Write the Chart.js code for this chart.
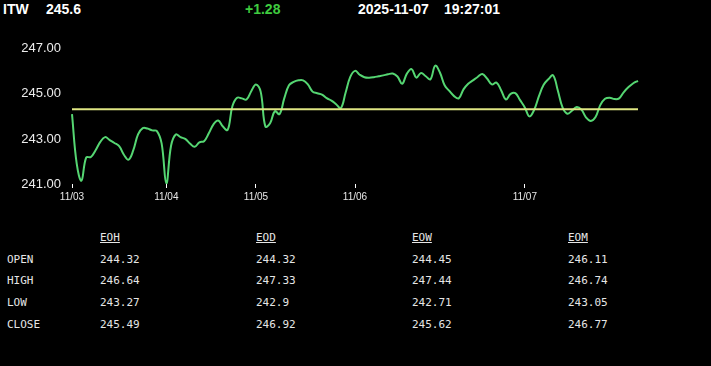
<!DOCTYPE html>
<html>
<head>
<meta charset="utf-8">
<script src="https://cdn.jsdelivr.net/npm/chart.js@4/dist/chart.umd.min.js"></script>
<style>
  html, body { margin: 0; padding: 0; background: #000; }
  body { width: 711px; height: 366px; position: relative; overflow: hidden; }
  .hdr { position: absolute; top: 1px; font: bold 14px "Liberation Sans", Arial, sans-serif; color: #fff; line-height: 16px; }
  .up { color: #3fcb3f; }
  #wrap { position: absolute; left: 0; top: 30px; width: 711px; height: 190px; }
  .cell { position: absolute; font: 11px "DejaVu Sans Mono", monospace; color: #e6e6e6; line-height: 14px; }
  .head { text-decoration: underline; }
</style>
</head>
<body>
<div class="hdr" style="left:3px">ITW</div>
<div class="hdr" id="last" style="left:46px"></div>
<div class="hdr up" id="chg" style="left:245px"></div>
<div class="hdr" id="stamp" style="left:358px"></div>
<div class="hdr" id="clock" style="left:444px"></div>

<div id="wrap"><canvas id="chart" width="711" height="190"></canvas></div>
<div id="table"></div>

<script>
const symbol = "ITW";
const lastPrice = "245.6";
const change = "+1.28";
const dateText = "2025-11-07";
const timeText = "19:27:01";

// intraday closes
const prices = [
  244.1, 241.9, 241.15, 242.17, 242.2, 242.5, 242.87, 243.08, 242.95, 242.82,
  242.68, 242.3, 242.08, 242.5, 243.2, 243.48, 243.46, 243.38, 243.35, 242.8,
  241.03, 242.7, 243.2, 243.08, 243.0, 242.8, 242.65, 242.85, 242.9, 243.25,
  243.65, 243.82, 243.55, 243.4, 244.45, 244.83, 244.8, 244.75, 245.12, 245.42,
  245.1, 243.55, 243.7, 244.23, 244.1, 244.8, 245.38, 245.53, 245.6, 245.6,
  245.42, 245.1, 245.03, 244.97, 244.81, 244.7, 244.54, 244.37, 245.05, 245.75,
  246.02, 245.85, 245.74, 245.72, 245.74, 245.78, 245.82, 245.87, 245.9, 245.77,
  245.45, 245.9, 246.1, 245.72, 245.93, 245.78, 245.65, 246.25, 245.95, 245.38,
  245.13, 244.9, 244.8, 245.2, 245.45, 245.6, 245.75, 245.88, 245.68, 245.42,
  245.5, 245.15, 244.75, 245.0, 245.03, 244.72, 244.4, 244.0, 244.3, 244.9,
  245.4, 245.65, 245.82, 245.15, 244.4, 244.12, 244.25, 244.42, 244.3, 243.95,
  243.8, 243.97, 244.5, 244.78, 244.83, 244.77, 244.8, 245.08, 245.3, 245.47,
  245.58
];

const dayStarts = [0, 20, 39, 60, 96];
const dayNames = ["11/03", "11/04", "11/05", "11/06", "11/07"];
const yTicks = [241, 243, 245, 247];
const refLevel = 244.32;

const tableCols = ["EOH", "EOD", "EOW", "EOM"];
const tableRows = ["OPEN", "HIGH", "LOW", "CLOSE"];
const openVals = ["244.32", "244.32", "244.45", "246.11"];
const highVals = ["246.64", "247.33", "247.44", "246.74"];
const lowVals = ["243.27", "242.9", "242.71", "243.05"];
const closeVals = ["245.49", "246.92", "245.62", "246.77"];

document.getElementById("last").textContent = lastPrice;
document.getElementById("chg").textContent = change;
document.getElementById("stamp").textContent = dateText;
document.getElementById("clock").textContent = timeText;

// table below the chart
(function buildTable() {
  const box = document.getElementById("table");
  const colX = [100, 256, 412, 568];
  const rowY = [253, 274, 296, 318];
  const values = [openVals, highVals, lowVals, closeVals];
  const add = (text, x, y, cls) => {
    const d = document.createElement("div");
    d.className = "cell" + (cls ? " " + cls : "");
    d.style.left = x + "px";
    d.style.top = y + "px";
    d.textContent = text;
    box.appendChild(d);
  };
  tableCols.forEach((c, i) => add(c, colX[i], 231, "head"));
  tableRows.forEach((r, j) => {
    add(r, 7, rowY[j]);
    values[j].forEach((v, i) => add(v, colX[i], rowY[j]));
  });
})();

const labels = prices.map((_, i) => {
  const k = dayStarts.indexOf(i);
  return k >= 0 ? dayNames[k] : "";
});

new Chart(document.getElementById("chart"), {
  type: "line",
  data: {
    labels,
    datasets: [
      {
        data: labels.map(() => refLevel),
        borderColor: "#dfe683",
        borderWidth: 2,
        pointRadius: 0,
        tension: 0
      },
      {
        data: prices,
        borderColor: "#55d672",
        borderWidth: 2,
        pointRadius: 0,
        tension: 0.4
      }
    ]
  },
  options: {
    responsive: false,
    animation: false,
    layout: { padding: { left: 0, right: 73, top: 17, bottom: 0 } },
    plugins: { legend: { display: false }, tooltip: { enabled: false } },
    scales: {
      x: {
        afterBuildTicks: scale => {
          scale.ticks = scale.ticks.filter(t => dayStarts.includes(t.value));
        },
        afterFit: scale => { scale.height = 36; },
        border: { display: false },
        grid: { display: true, drawOnChartArea: false, drawTicks: true, tickLength: 4, color: "#ffffff" },
        ticks: {
          autoSkip: false,
          maxRotation: 0,
          padding: 3,
          color: "#e8e8e8",
          font: { family: "'Liberation Sans', Arial, sans-serif", size: 10 }
        }
      },
      y: {
        min: 241,
        max: 247,
        afterBuildTicks: scale => {
          scale.ticks = yTicks.map(v => ({ value: v }));
        },
        afterFit: scale => { scale.width = 72; },
        border: { display: false },
        grid: { display: false, drawTicks: false },
        ticks: {
          padding: 11,
          color: "#ececec",
          font: { family: "'Liberation Sans', Arial, sans-serif", size: 13 },
          callback: v => v.toFixed(2)
        }
      }
    }
  }
});
</script>
</body>
</html>
